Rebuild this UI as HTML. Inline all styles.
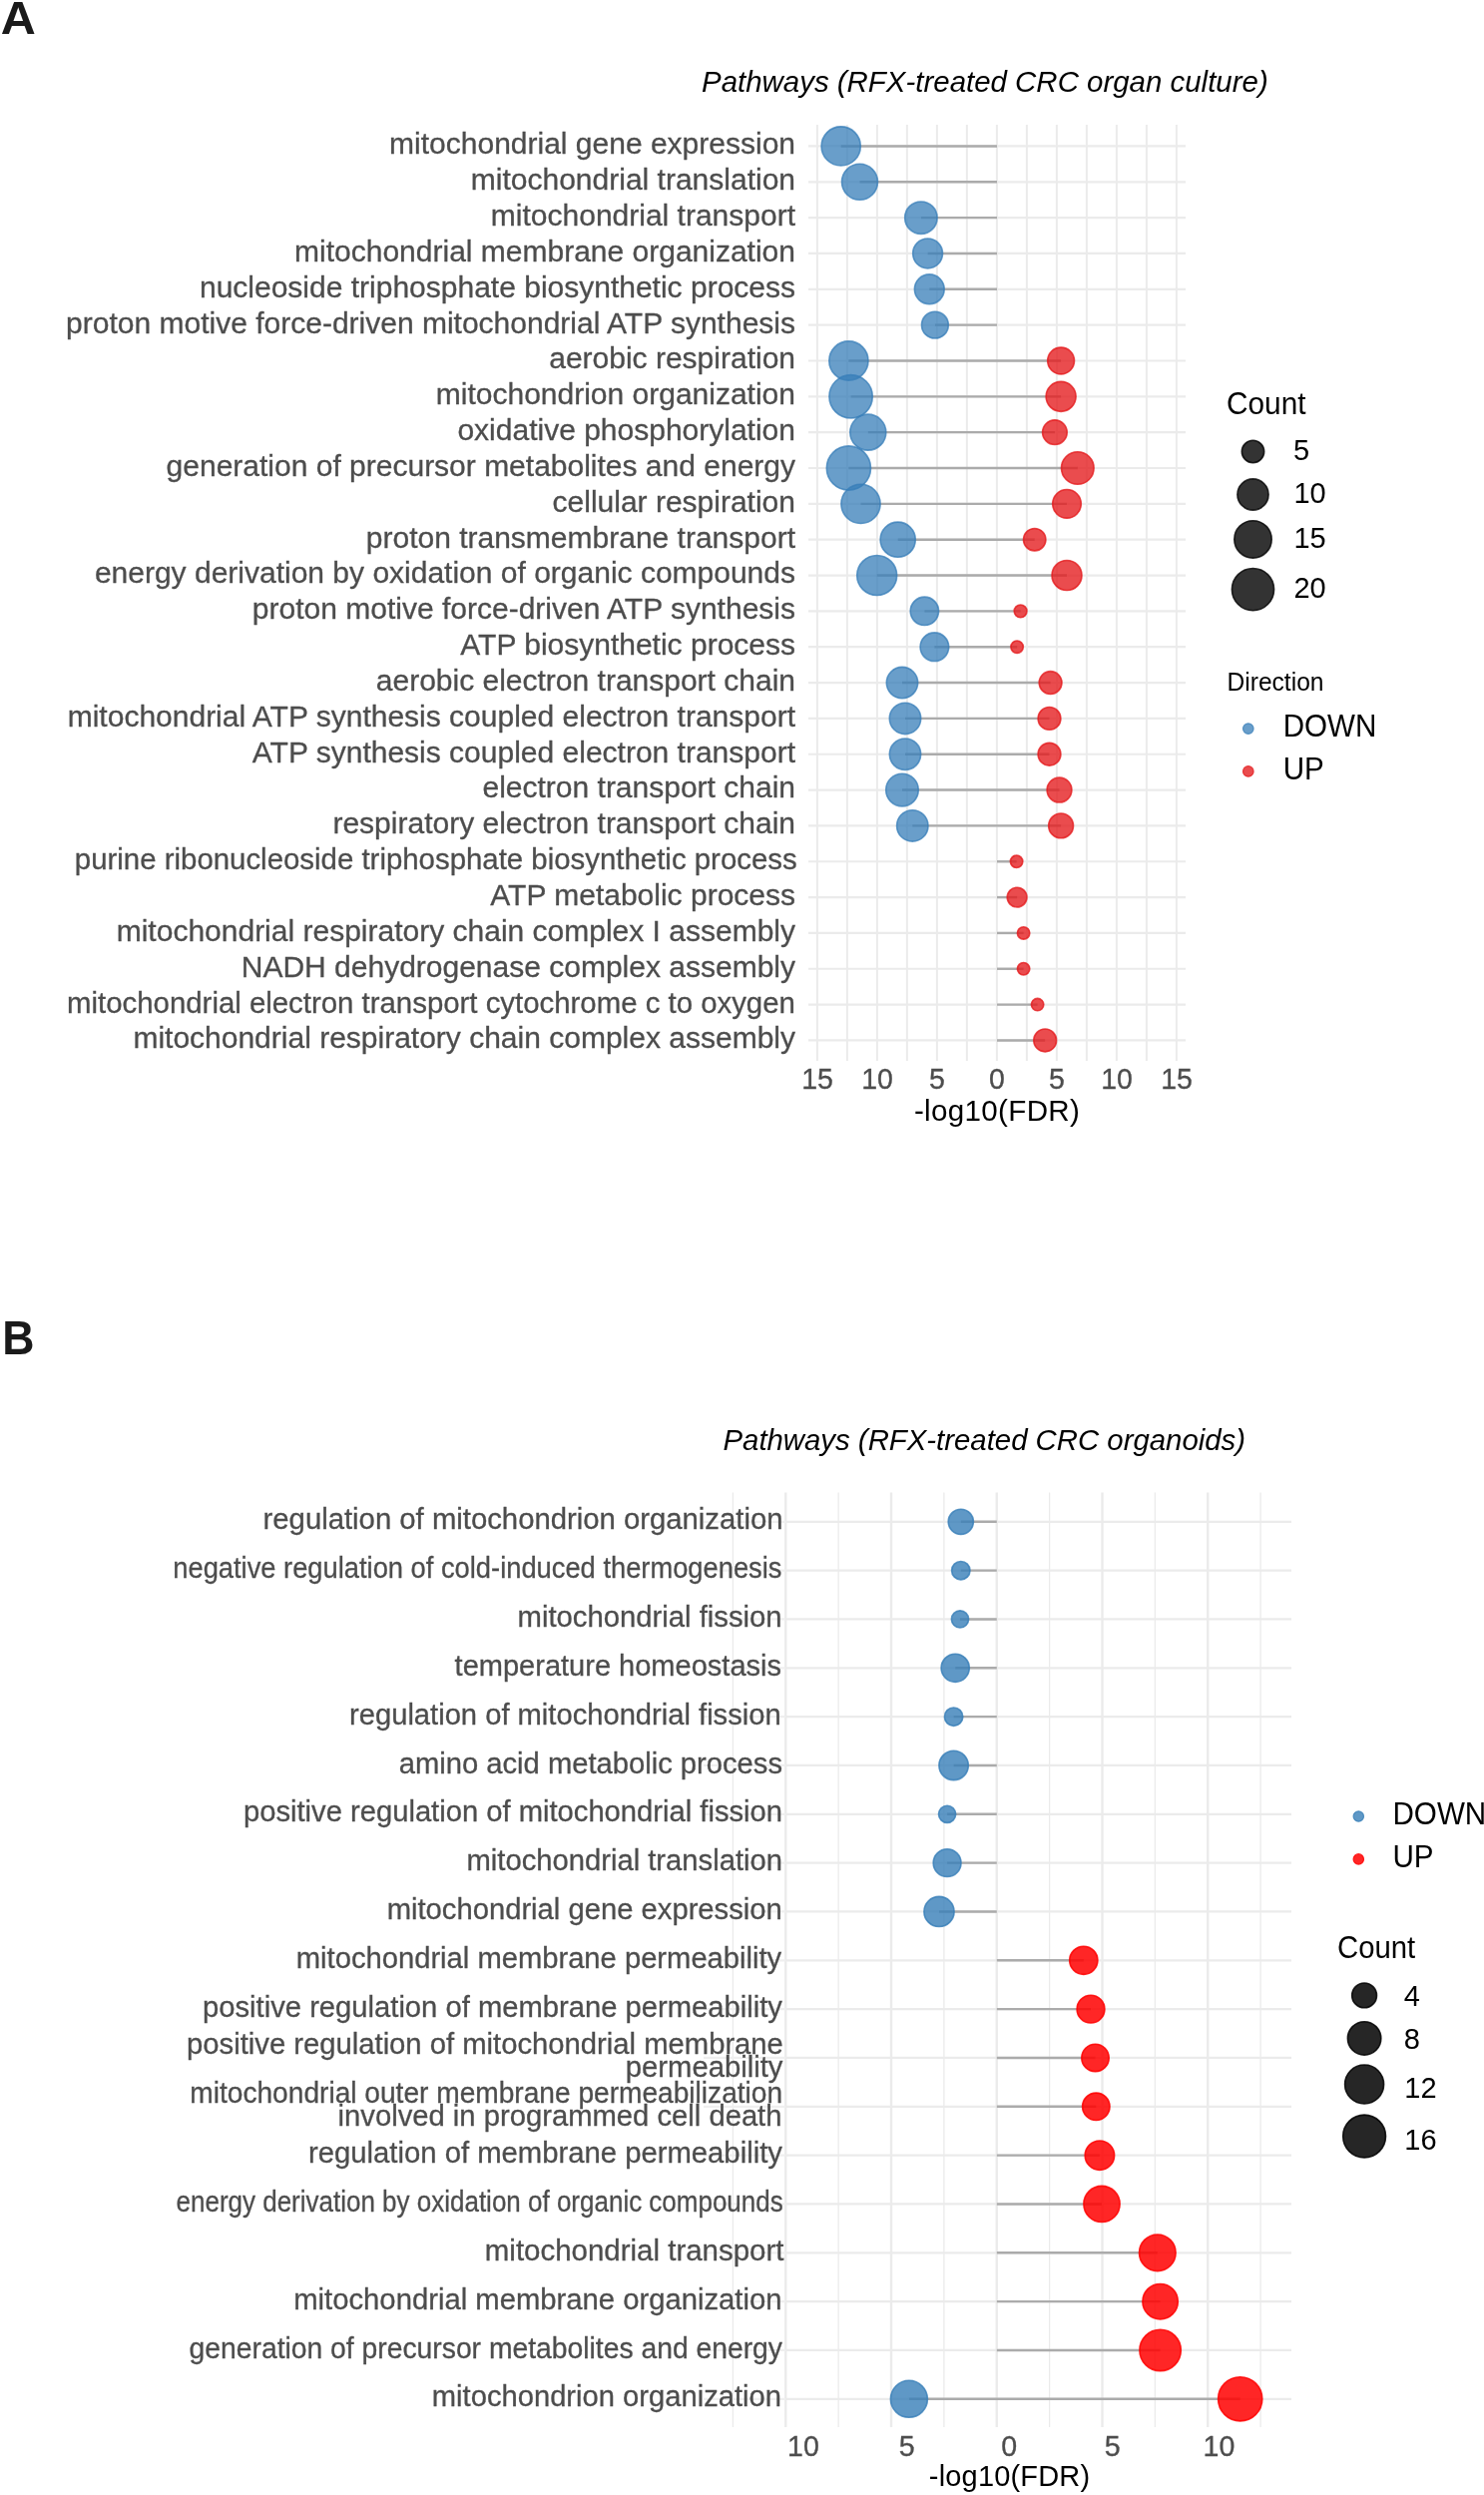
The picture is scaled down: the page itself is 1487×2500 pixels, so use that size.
<!DOCTYPE html>
<html><head><meta charset="utf-8"><title>Pathways</title>
<style>
html,body{margin:0;padding:0;background:#fff;}
body{width:1487px;height:2500px;overflow:hidden;}
svg{display:block;will-change:transform;}
svg text{font-family:"Liberation Sans", sans-serif;}
svg text[fill="#4D4D4D"]{stroke:#4D4D4D;stroke-width:0.3px;}
</style></head>
<body>
<svg width="1487" height="2500" viewBox="0 0 1487 2500">
<rect x="0" y="0" width="1487" height="2500" fill="#fff"/>
<line x1="818.90" y1="125.0" x2="818.90" y2="1063.0" stroke="#EBEBEB" stroke-width="2.0"/>
<line x1="848.90" y1="125.0" x2="848.90" y2="1063.0" stroke="#EBEBEB" stroke-width="2.0"/>
<line x1="878.90" y1="125.0" x2="878.90" y2="1063.0" stroke="#EBEBEB" stroke-width="2.0"/>
<line x1="908.90" y1="125.0" x2="908.90" y2="1063.0" stroke="#EBEBEB" stroke-width="2.0"/>
<line x1="938.90" y1="125.0" x2="938.90" y2="1063.0" stroke="#EBEBEB" stroke-width="2.0"/>
<line x1="968.90" y1="125.0" x2="968.90" y2="1063.0" stroke="#EBEBEB" stroke-width="2.0"/>
<line x1="998.90" y1="125.0" x2="998.90" y2="1063.0" stroke="#EBEBEB" stroke-width="2.0"/>
<line x1="1028.90" y1="125.0" x2="1028.90" y2="1063.0" stroke="#EBEBEB" stroke-width="2.0"/>
<line x1="1058.90" y1="125.0" x2="1058.90" y2="1063.0" stroke="#EBEBEB" stroke-width="2.0"/>
<line x1="1088.90" y1="125.0" x2="1088.90" y2="1063.0" stroke="#EBEBEB" stroke-width="2.0"/>
<line x1="1118.90" y1="125.0" x2="1118.90" y2="1063.0" stroke="#EBEBEB" stroke-width="2.0"/>
<line x1="1148.90" y1="125.0" x2="1148.90" y2="1063.0" stroke="#EBEBEB" stroke-width="2.0"/>
<line x1="1178.90" y1="125.0" x2="1178.90" y2="1063.0" stroke="#EBEBEB" stroke-width="2.0"/>
<line x1="810.0" y1="146.45" x2="1188.0" y2="146.45" stroke="#EBEBEB" stroke-width="2.2"/>
<line x1="810.0" y1="182.29" x2="1188.0" y2="182.29" stroke="#EBEBEB" stroke-width="2.2"/>
<line x1="810.0" y1="218.13" x2="1188.0" y2="218.13" stroke="#EBEBEB" stroke-width="2.2"/>
<line x1="810.0" y1="253.97" x2="1188.0" y2="253.97" stroke="#EBEBEB" stroke-width="2.2"/>
<line x1="810.0" y1="289.81" x2="1188.0" y2="289.81" stroke="#EBEBEB" stroke-width="2.2"/>
<line x1="810.0" y1="325.65" x2="1188.0" y2="325.65" stroke="#EBEBEB" stroke-width="2.2"/>
<line x1="810.0" y1="361.49" x2="1188.0" y2="361.49" stroke="#EBEBEB" stroke-width="2.2"/>
<line x1="810.0" y1="397.33" x2="1188.0" y2="397.33" stroke="#EBEBEB" stroke-width="2.2"/>
<line x1="810.0" y1="433.17" x2="1188.0" y2="433.17" stroke="#EBEBEB" stroke-width="2.2"/>
<line x1="810.0" y1="469.01" x2="1188.0" y2="469.01" stroke="#EBEBEB" stroke-width="2.2"/>
<line x1="810.0" y1="504.85" x2="1188.0" y2="504.85" stroke="#EBEBEB" stroke-width="2.2"/>
<line x1="810.0" y1="540.69" x2="1188.0" y2="540.69" stroke="#EBEBEB" stroke-width="2.2"/>
<line x1="810.0" y1="576.53" x2="1188.0" y2="576.53" stroke="#EBEBEB" stroke-width="2.2"/>
<line x1="810.0" y1="612.37" x2="1188.0" y2="612.37" stroke="#EBEBEB" stroke-width="2.2"/>
<line x1="810.0" y1="648.21" x2="1188.0" y2="648.21" stroke="#EBEBEB" stroke-width="2.2"/>
<line x1="810.0" y1="684.05" x2="1188.0" y2="684.05" stroke="#EBEBEB" stroke-width="2.2"/>
<line x1="810.0" y1="719.89" x2="1188.0" y2="719.89" stroke="#EBEBEB" stroke-width="2.2"/>
<line x1="810.0" y1="755.73" x2="1188.0" y2="755.73" stroke="#EBEBEB" stroke-width="2.2"/>
<line x1="810.0" y1="791.57" x2="1188.0" y2="791.57" stroke="#EBEBEB" stroke-width="2.2"/>
<line x1="810.0" y1="827.41" x2="1188.0" y2="827.41" stroke="#EBEBEB" stroke-width="2.2"/>
<line x1="810.0" y1="863.25" x2="1188.0" y2="863.25" stroke="#EBEBEB" stroke-width="2.2"/>
<line x1="810.0" y1="899.09" x2="1188.0" y2="899.09" stroke="#EBEBEB" stroke-width="2.2"/>
<line x1="810.0" y1="934.93" x2="1188.0" y2="934.93" stroke="#EBEBEB" stroke-width="2.2"/>
<line x1="810.0" y1="970.77" x2="1188.0" y2="970.77" stroke="#EBEBEB" stroke-width="2.2"/>
<line x1="810.0" y1="1006.61" x2="1188.0" y2="1006.61" stroke="#EBEBEB" stroke-width="2.2"/>
<line x1="810.0" y1="1042.45" x2="1188.0" y2="1042.45" stroke="#EBEBEB" stroke-width="2.2"/>
<line x1="842.70" y1="146.45" x2="999.00" y2="146.45" stroke="#ABABAB" stroke-width="2.4"/>
<line x1="861.50" y1="182.29" x2="999.00" y2="182.29" stroke="#ABABAB" stroke-width="2.4"/>
<line x1="922.90" y1="218.13" x2="999.00" y2="218.13" stroke="#ABABAB" stroke-width="2.4"/>
<line x1="929.60" y1="253.97" x2="999.00" y2="253.97" stroke="#ABABAB" stroke-width="2.4"/>
<line x1="931.30" y1="289.81" x2="999.00" y2="289.81" stroke="#ABABAB" stroke-width="2.4"/>
<line x1="936.90" y1="325.65" x2="999.00" y2="325.65" stroke="#ABABAB" stroke-width="2.4"/>
<line x1="850.40" y1="361.49" x2="1063.10" y2="361.49" stroke="#ABABAB" stroke-width="2.4"/>
<line x1="852.60" y1="397.33" x2="1063.10" y2="397.33" stroke="#ABABAB" stroke-width="2.4"/>
<line x1="869.80" y1="433.17" x2="1056.90" y2="433.17" stroke="#ABABAB" stroke-width="2.4"/>
<line x1="850.40" y1="469.01" x2="1079.80" y2="469.01" stroke="#ABABAB" stroke-width="2.4"/>
<line x1="862.50" y1="504.85" x2="1069.00" y2="504.85" stroke="#ABABAB" stroke-width="2.4"/>
<line x1="899.70" y1="540.69" x2="1036.70" y2="540.69" stroke="#ABABAB" stroke-width="2.4"/>
<line x1="878.70" y1="576.53" x2="1069.00" y2="576.53" stroke="#ABABAB" stroke-width="2.4"/>
<line x1="926.40" y1="612.37" x2="1022.60" y2="612.37" stroke="#ABABAB" stroke-width="2.4"/>
<line x1="936.40" y1="648.21" x2="1019.10" y2="648.21" stroke="#ABABAB" stroke-width="2.4"/>
<line x1="904.00" y1="684.05" x2="1052.60" y2="684.05" stroke="#ABABAB" stroke-width="2.4"/>
<line x1="907.00" y1="719.89" x2="1051.50" y2="719.89" stroke="#ABABAB" stroke-width="2.4"/>
<line x1="907.00" y1="755.73" x2="1051.50" y2="755.73" stroke="#ABABAB" stroke-width="2.4"/>
<line x1="904.00" y1="791.57" x2="1061.50" y2="791.57" stroke="#ABABAB" stroke-width="2.4"/>
<line x1="914.30" y1="827.41" x2="1063.10" y2="827.41" stroke="#ABABAB" stroke-width="2.4"/>
<line x1="999.00" y1="863.25" x2="1018.60" y2="863.25" stroke="#ABABAB" stroke-width="2.4"/>
<line x1="999.00" y1="899.09" x2="1019.10" y2="899.09" stroke="#ABABAB" stroke-width="2.4"/>
<line x1="999.00" y1="934.93" x2="1025.60" y2="934.93" stroke="#ABABAB" stroke-width="2.4"/>
<line x1="999.00" y1="970.77" x2="1025.60" y2="970.77" stroke="#ABABAB" stroke-width="2.4"/>
<line x1="999.00" y1="1006.61" x2="1039.60" y2="1006.61" stroke="#ABABAB" stroke-width="2.4"/>
<line x1="999.00" y1="1042.45" x2="1047.20" y2="1042.45" stroke="#ABABAB" stroke-width="2.4"/>
<circle cx="842.70" cy="146.45" r="19.60" fill="#377EB8" fill-opacity="0.75" stroke="#377EB8" stroke-opacity="0.75" stroke-width="1.6"/>
<circle cx="861.50" cy="182.29" r="18.00" fill="#377EB8" fill-opacity="0.75" stroke="#377EB8" stroke-opacity="0.75" stroke-width="1.6"/>
<circle cx="922.90" cy="218.13" r="16.20" fill="#377EB8" fill-opacity="0.75" stroke="#377EB8" stroke-opacity="0.75" stroke-width="1.6"/>
<circle cx="929.60" cy="253.97" r="14.90" fill="#377EB8" fill-opacity="0.75" stroke="#377EB8" stroke-opacity="0.75" stroke-width="1.6"/>
<circle cx="931.30" cy="289.81" r="14.90" fill="#377EB8" fill-opacity="0.75" stroke="#377EB8" stroke-opacity="0.75" stroke-width="1.6"/>
<circle cx="936.90" cy="325.65" r="13.40" fill="#377EB8" fill-opacity="0.75" stroke="#377EB8" stroke-opacity="0.75" stroke-width="1.6"/>
<circle cx="850.40" cy="361.49" r="19.60" fill="#377EB8" fill-opacity="0.75" stroke="#377EB8" stroke-opacity="0.75" stroke-width="1.6"/>
<circle cx="1063.10" cy="361.49" r="13.40" fill="#E41A1C" fill-opacity="0.78" stroke="#E41A1C" stroke-opacity="0.78" stroke-width="1.6"/>
<circle cx="852.60" cy="397.33" r="21.70" fill="#377EB8" fill-opacity="0.75" stroke="#377EB8" stroke-opacity="0.75" stroke-width="1.6"/>
<circle cx="1063.10" cy="397.33" r="15.00" fill="#E41A1C" fill-opacity="0.78" stroke="#E41A1C" stroke-opacity="0.78" stroke-width="1.6"/>
<circle cx="869.80" cy="433.17" r="18.00" fill="#377EB8" fill-opacity="0.75" stroke="#377EB8" stroke-opacity="0.75" stroke-width="1.6"/>
<circle cx="1056.90" cy="433.17" r="12.30" fill="#E41A1C" fill-opacity="0.78" stroke="#E41A1C" stroke-opacity="0.78" stroke-width="1.6"/>
<circle cx="850.40" cy="469.01" r="22.10" fill="#377EB8" fill-opacity="0.75" stroke="#377EB8" stroke-opacity="0.75" stroke-width="1.6"/>
<circle cx="1079.80" cy="469.01" r="16.30" fill="#E41A1C" fill-opacity="0.78" stroke="#E41A1C" stroke-opacity="0.78" stroke-width="1.6"/>
<circle cx="862.50" cy="504.85" r="19.60" fill="#377EB8" fill-opacity="0.75" stroke="#377EB8" stroke-opacity="0.75" stroke-width="1.6"/>
<circle cx="1069.00" cy="504.85" r="14.30" fill="#E41A1C" fill-opacity="0.78" stroke="#E41A1C" stroke-opacity="0.78" stroke-width="1.6"/>
<circle cx="899.70" cy="540.69" r="17.60" fill="#377EB8" fill-opacity="0.75" stroke="#377EB8" stroke-opacity="0.75" stroke-width="1.6"/>
<circle cx="1036.70" cy="540.69" r="11.20" fill="#E41A1C" fill-opacity="0.78" stroke="#E41A1C" stroke-opacity="0.78" stroke-width="1.6"/>
<circle cx="878.70" cy="576.53" r="20.00" fill="#377EB8" fill-opacity="0.75" stroke="#377EB8" stroke-opacity="0.75" stroke-width="1.6"/>
<circle cx="1069.00" cy="576.53" r="15.00" fill="#E41A1C" fill-opacity="0.78" stroke="#E41A1C" stroke-opacity="0.78" stroke-width="1.6"/>
<circle cx="926.40" cy="612.37" r="14.20" fill="#377EB8" fill-opacity="0.75" stroke="#377EB8" stroke-opacity="0.75" stroke-width="1.6"/>
<circle cx="1022.60" cy="612.37" r="6.40" fill="#E41A1C" fill-opacity="0.78" stroke="#E41A1C" stroke-opacity="0.78" stroke-width="1.6"/>
<circle cx="936.40" cy="648.21" r="14.30" fill="#377EB8" fill-opacity="0.75" stroke="#377EB8" stroke-opacity="0.75" stroke-width="1.6"/>
<circle cx="1019.10" cy="648.21" r="6.20" fill="#E41A1C" fill-opacity="0.78" stroke="#E41A1C" stroke-opacity="0.78" stroke-width="1.6"/>
<circle cx="904.00" cy="684.05" r="15.70" fill="#377EB8" fill-opacity="0.75" stroke="#377EB8" stroke-opacity="0.75" stroke-width="1.6"/>
<circle cx="1052.60" cy="684.05" r="11.40" fill="#E41A1C" fill-opacity="0.78" stroke="#E41A1C" stroke-opacity="0.78" stroke-width="1.6"/>
<circle cx="907.00" cy="719.89" r="15.70" fill="#377EB8" fill-opacity="0.75" stroke="#377EB8" stroke-opacity="0.75" stroke-width="1.6"/>
<circle cx="1051.50" cy="719.89" r="11.40" fill="#E41A1C" fill-opacity="0.78" stroke="#E41A1C" stroke-opacity="0.78" stroke-width="1.6"/>
<circle cx="907.00" cy="755.73" r="15.70" fill="#377EB8" fill-opacity="0.75" stroke="#377EB8" stroke-opacity="0.75" stroke-width="1.6"/>
<circle cx="1051.50" cy="755.73" r="11.40" fill="#E41A1C" fill-opacity="0.78" stroke="#E41A1C" stroke-opacity="0.78" stroke-width="1.6"/>
<circle cx="904.00" cy="791.57" r="16.30" fill="#377EB8" fill-opacity="0.75" stroke="#377EB8" stroke-opacity="0.75" stroke-width="1.6"/>
<circle cx="1061.50" cy="791.57" r="12.40" fill="#E41A1C" fill-opacity="0.78" stroke="#E41A1C" stroke-opacity="0.78" stroke-width="1.6"/>
<circle cx="914.30" cy="827.41" r="15.70" fill="#377EB8" fill-opacity="0.75" stroke="#377EB8" stroke-opacity="0.75" stroke-width="1.6"/>
<circle cx="1063.10" cy="827.41" r="12.40" fill="#E41A1C" fill-opacity="0.78" stroke="#E41A1C" stroke-opacity="0.78" stroke-width="1.6"/>
<circle cx="1018.60" cy="863.25" r="6.20" fill="#E41A1C" fill-opacity="0.78" stroke="#E41A1C" stroke-opacity="0.78" stroke-width="1.6"/>
<circle cx="1019.10" cy="899.09" r="9.90" fill="#E41A1C" fill-opacity="0.78" stroke="#E41A1C" stroke-opacity="0.78" stroke-width="1.6"/>
<circle cx="1025.60" cy="934.93" r="6.20" fill="#E41A1C" fill-opacity="0.78" stroke="#E41A1C" stroke-opacity="0.78" stroke-width="1.6"/>
<circle cx="1025.60" cy="970.77" r="6.20" fill="#E41A1C" fill-opacity="0.78" stroke="#E41A1C" stroke-opacity="0.78" stroke-width="1.6"/>
<circle cx="1039.60" cy="1006.61" r="6.20" fill="#E41A1C" fill-opacity="0.78" stroke="#E41A1C" stroke-opacity="0.78" stroke-width="1.6"/>
<circle cx="1047.20" cy="1042.45" r="11.40" fill="#E41A1C" fill-opacity="0.78" stroke="#E41A1C" stroke-opacity="0.78" stroke-width="1.6"/>
<text x="797.0" y="154.35" text-anchor="end" font-size="30" fill="#4D4D4D">mitochondrial gene expression</text>
<text x="797.0" y="190.19" text-anchor="end" font-size="30" fill="#4D4D4D">mitochondrial translation</text>
<text x="797.0" y="226.03" text-anchor="end" font-size="30" fill="#4D4D4D">mitochondrial transport</text>
<text x="797.0" y="261.87" text-anchor="end" font-size="30" fill="#4D4D4D">mitochondrial membrane organization</text>
<text x="797.0" y="297.71" text-anchor="end" font-size="30" fill="#4D4D4D">nucleoside triphosphate biosynthetic process</text>
<text x="797.0" y="333.55" text-anchor="end" font-size="30" fill="#4D4D4D">proton motive force-driven mitochondrial ATP synthesis</text>
<text x="797.0" y="369.39" text-anchor="end" font-size="30" fill="#4D4D4D">aerobic respiration</text>
<text x="797.0" y="405.23" text-anchor="end" font-size="30" fill="#4D4D4D">mitochondrion organization</text>
<text x="797.0" y="441.07" text-anchor="end" font-size="30" fill="#4D4D4D">oxidative phosphorylation</text>
<text x="797.0" y="476.91" text-anchor="end" font-size="30" fill="#4D4D4D">generation of precursor metabolites and energy</text>
<text x="797.0" y="512.75" text-anchor="end" font-size="30" fill="#4D4D4D">cellular respiration</text>
<text x="797.0" y="548.59" text-anchor="end" font-size="30" fill="#4D4D4D">proton transmembrane transport</text>
<text x="797.0" y="584.43" text-anchor="end" font-size="30" fill="#4D4D4D">energy derivation by oxidation of organic compounds</text>
<text x="797.0" y="620.27" text-anchor="end" font-size="30" fill="#4D4D4D">proton motive force-driven ATP synthesis</text>
<text x="797.0" y="656.11" text-anchor="end" font-size="30" fill="#4D4D4D">ATP biosynthetic process</text>
<text x="797.0" y="691.95" text-anchor="end" font-size="30" fill="#4D4D4D">aerobic electron transport chain</text>
<text x="797.0" y="727.79" text-anchor="end" font-size="30" fill="#4D4D4D">mitochondrial ATP synthesis coupled electron transport</text>
<text x="797.0" y="763.63" text-anchor="end" font-size="30" fill="#4D4D4D">ATP synthesis coupled electron transport</text>
<text x="797.0" y="799.47" text-anchor="end" font-size="30" fill="#4D4D4D">electron transport chain</text>
<text x="797.0" y="835.31" text-anchor="end" font-size="30" fill="#4D4D4D">respiratory electron transport chain</text>
<text x="74.85" y="871.15" font-size="30" fill="#4D4D4D" textLength="723.82" lengthAdjust="spacingAndGlyphs">purine ribonucleoside triphosphate biosynthetic process</text>
<text x="797.0" y="906.99" text-anchor="end" font-size="30" fill="#4D4D4D">ATP metabolic process</text>
<text x="797.0" y="942.83" text-anchor="end" font-size="30" fill="#4D4D4D">mitochondrial respiratory chain complex I assembly</text>
<text x="797.0" y="978.67" text-anchor="end" font-size="30" fill="#4D4D4D">NADH dehydrogenase complex assembly</text>
<text x="67.09" y="1014.51" font-size="30" fill="#4D4D4D" textLength="729.77" lengthAdjust="spacingAndGlyphs">mitochondrial electron transport cytochrome c to oxygen</text>
<text x="797.0" y="1050.35" text-anchor="end" font-size="30" fill="#4D4D4D">mitochondrial respiratory chain complex assembly</text>
<text transform="translate(819.00,1091.20) scale(1,1.04)" x="0" y="0" font-size="28.5" fill="#4D4D4D" text-anchor="middle">15</text>
<text transform="translate(879.00,1091.20) scale(1,1.04)" x="0" y="0" font-size="28.5" fill="#4D4D4D" text-anchor="middle">10</text>
<text transform="translate(939.00,1091.20) scale(1,1.04)" x="0" y="0" font-size="28.5" fill="#4D4D4D" text-anchor="middle">5</text>
<text transform="translate(999.00,1091.20) scale(1,1.04)" x="0" y="0" font-size="28.5" fill="#4D4D4D" text-anchor="middle">0</text>
<text transform="translate(1059.00,1091.20) scale(1,1.04)" x="0" y="0" font-size="28.5" fill="#4D4D4D" text-anchor="middle">5</text>
<text transform="translate(1119.00,1091.20) scale(1,1.04)" x="0" y="0" font-size="28.5" fill="#4D4D4D" text-anchor="middle">10</text>
<text transform="translate(1179.00,1091.20) scale(1,1.04)" x="0" y="0" font-size="28.5" fill="#4D4D4D" text-anchor="middle">15</text>
<text x="915.9" y="1123" font-size="29.6" fill="#000" textLength="166.0" lengthAdjust="spacing">-log10(FDR)</text>
<text x="703" y="92.4" font-size="29.45" font-style="italic" fill="#000">Pathways (RFX-treated CRC organ culture)</text>
<text transform="translate(1229.00,415.30) scale(1,1.05)" x="0" y="0" font-size="29.8" fill="#000">Count</text>
<circle cx="1255.50" cy="452.50" r="11.20" fill="#000" fill-opacity="0.8" stroke="#000" stroke-opacity="0.8" stroke-width="1.6"/>
<text transform="translate(1296.00,460.70) scale(1,1.03)" x="0" y="0" font-size="29" fill="#000">5</text>
<circle cx="1255.50" cy="495.50" r="15.60" fill="#000" fill-opacity="0.8" stroke="#000" stroke-opacity="0.8" stroke-width="1.6"/>
<text transform="translate(1296.50,503.70) scale(1,1.03)" x="0" y="0" font-size="29" fill="#000">10</text>
<circle cx="1255.50" cy="540.40" r="18.70" fill="#000" fill-opacity="0.8" stroke="#000" stroke-opacity="0.8" stroke-width="1.6"/>
<text transform="translate(1296.50,548.60) scale(1,1.03)" x="0" y="0" font-size="29" fill="#000">15</text>
<circle cx="1255.50" cy="590.60" r="21.10" fill="#000" fill-opacity="0.8" stroke="#000" stroke-opacity="0.8" stroke-width="1.6"/>
<text transform="translate(1296.50,598.80) scale(1,1.03)" x="0" y="0" font-size="29" fill="#000">20</text>
<text transform="translate(1229.50,692.30) scale(1,1.04)" x="0" y="0" font-size="24.6" fill="#000">Direction</text>
<circle cx="1250.80" cy="730.10" r="5.30" fill="#377EB8" fill-opacity="0.75" stroke="#377EB8" stroke-opacity="0.75" stroke-width="1.2"/>
<circle cx="1250.80" cy="772.90" r="5.30" fill="#E41A1C" fill-opacity="0.78" stroke="#E41A1C" stroke-opacity="0.78" stroke-width="1.2"/>
<text transform="translate(1285.70,737.90) scale(1,1.07)" x="0" y="0" font-size="29.6" fill="#000">DOWN</text>
<text transform="translate(1285.70,780.60) scale(1,1.07)" x="0" y="0" font-size="29.6" fill="#000">UP</text>
<line x1="734.40" y1="1495.4" x2="734.40" y2="2432.0" stroke="#EBEBEB" stroke-width="1.3"/>
<line x1="787.27" y1="1495.4" x2="787.27" y2="2432.0" stroke="#EBEBEB" stroke-width="2.4"/>
<line x1="840.14" y1="1495.4" x2="840.14" y2="2432.0" stroke="#EBEBEB" stroke-width="1.3"/>
<line x1="893.01" y1="1495.4" x2="893.01" y2="2432.0" stroke="#EBEBEB" stroke-width="2.4"/>
<line x1="945.88" y1="1495.4" x2="945.88" y2="2432.0" stroke="#EBEBEB" stroke-width="1.3"/>
<line x1="998.75" y1="1495.4" x2="998.75" y2="2432.0" stroke="#EBEBEB" stroke-width="2.4"/>
<line x1="1051.62" y1="1495.4" x2="1051.62" y2="2432.0" stroke="#EBEBEB" stroke-width="1.3"/>
<line x1="1104.49" y1="1495.4" x2="1104.49" y2="2432.0" stroke="#EBEBEB" stroke-width="2.4"/>
<line x1="1157.36" y1="1495.4" x2="1157.36" y2="2432.0" stroke="#EBEBEB" stroke-width="1.3"/>
<line x1="1210.23" y1="1495.4" x2="1210.23" y2="2432.0" stroke="#EBEBEB" stroke-width="2.4"/>
<line x1="1263.10" y1="1495.4" x2="1263.10" y2="2432.0" stroke="#EBEBEB" stroke-width="1.3"/>
<line x1="705" y1="1524.80" x2="787.3" y2="1524.80" stroke="#EFEFEF" stroke-width="2.2"/>
<line x1="787.3" y1="1524.80" x2="1294.0" y2="1524.80" stroke="#EBEBEB" stroke-width="2.2"/>
<line x1="705" y1="1573.63" x2="787.3" y2="1573.63" stroke="#EFEFEF" stroke-width="2.2"/>
<line x1="787.3" y1="1573.63" x2="1294.0" y2="1573.63" stroke="#EBEBEB" stroke-width="2.2"/>
<line x1="705" y1="1622.47" x2="787.3" y2="1622.47" stroke="#EFEFEF" stroke-width="2.2"/>
<line x1="787.3" y1="1622.47" x2="1294.0" y2="1622.47" stroke="#EBEBEB" stroke-width="2.2"/>
<line x1="705" y1="1671.30" x2="787.3" y2="1671.30" stroke="#EFEFEF" stroke-width="2.2"/>
<line x1="787.3" y1="1671.30" x2="1294.0" y2="1671.30" stroke="#EBEBEB" stroke-width="2.2"/>
<line x1="705" y1="1720.13" x2="787.3" y2="1720.13" stroke="#EFEFEF" stroke-width="2.2"/>
<line x1="787.3" y1="1720.13" x2="1294.0" y2="1720.13" stroke="#EBEBEB" stroke-width="2.2"/>
<line x1="705" y1="1768.96" x2="787.3" y2="1768.96" stroke="#EFEFEF" stroke-width="2.2"/>
<line x1="787.3" y1="1768.96" x2="1294.0" y2="1768.96" stroke="#EBEBEB" stroke-width="2.2"/>
<line x1="705" y1="1817.80" x2="787.3" y2="1817.80" stroke="#EFEFEF" stroke-width="2.2"/>
<line x1="787.3" y1="1817.80" x2="1294.0" y2="1817.80" stroke="#EBEBEB" stroke-width="2.2"/>
<line x1="705" y1="1866.63" x2="787.3" y2="1866.63" stroke="#EFEFEF" stroke-width="2.2"/>
<line x1="787.3" y1="1866.63" x2="1294.0" y2="1866.63" stroke="#EBEBEB" stroke-width="2.2"/>
<line x1="705" y1="1915.46" x2="787.3" y2="1915.46" stroke="#EFEFEF" stroke-width="2.2"/>
<line x1="787.3" y1="1915.46" x2="1294.0" y2="1915.46" stroke="#EBEBEB" stroke-width="2.2"/>
<line x1="705" y1="1964.30" x2="787.3" y2="1964.30" stroke="#EFEFEF" stroke-width="2.2"/>
<line x1="787.3" y1="1964.30" x2="1294.0" y2="1964.30" stroke="#EBEBEB" stroke-width="2.2"/>
<line x1="705" y1="2013.13" x2="787.3" y2="2013.13" stroke="#EFEFEF" stroke-width="2.2"/>
<line x1="787.3" y1="2013.13" x2="1294.0" y2="2013.13" stroke="#EBEBEB" stroke-width="2.2"/>
<line x1="705" y1="2061.96" x2="787.3" y2="2061.96" stroke="#EFEFEF" stroke-width="2.2"/>
<line x1="787.3" y1="2061.96" x2="1294.0" y2="2061.96" stroke="#EBEBEB" stroke-width="2.2"/>
<line x1="705" y1="2110.80" x2="787.3" y2="2110.80" stroke="#EFEFEF" stroke-width="2.2"/>
<line x1="787.3" y1="2110.80" x2="1294.0" y2="2110.80" stroke="#EBEBEB" stroke-width="2.2"/>
<line x1="705" y1="2159.63" x2="787.3" y2="2159.63" stroke="#EFEFEF" stroke-width="2.2"/>
<line x1="787.3" y1="2159.63" x2="1294.0" y2="2159.63" stroke="#EBEBEB" stroke-width="2.2"/>
<line x1="705" y1="2208.46" x2="787.3" y2="2208.46" stroke="#EFEFEF" stroke-width="2.2"/>
<line x1="787.3" y1="2208.46" x2="1294.0" y2="2208.46" stroke="#EBEBEB" stroke-width="2.2"/>
<line x1="705" y1="2257.30" x2="787.3" y2="2257.30" stroke="#EFEFEF" stroke-width="2.2"/>
<line x1="787.3" y1="2257.30" x2="1294.0" y2="2257.30" stroke="#EBEBEB" stroke-width="2.2"/>
<line x1="705" y1="2306.13" x2="787.3" y2="2306.13" stroke="#EFEFEF" stroke-width="2.2"/>
<line x1="787.3" y1="2306.13" x2="1294.0" y2="2306.13" stroke="#EBEBEB" stroke-width="2.2"/>
<line x1="705" y1="2354.96" x2="787.3" y2="2354.96" stroke="#EFEFEF" stroke-width="2.2"/>
<line x1="787.3" y1="2354.96" x2="1294.0" y2="2354.96" stroke="#EBEBEB" stroke-width="2.2"/>
<line x1="705" y1="2403.79" x2="787.3" y2="2403.79" stroke="#EFEFEF" stroke-width="2.2"/>
<line x1="787.3" y1="2403.79" x2="1294.0" y2="2403.79" stroke="#EBEBEB" stroke-width="2.2"/>
<line x1="962.80" y1="1524.80" x2="998.80" y2="1524.80" stroke="#ABABAB" stroke-width="2.4"/>
<line x1="962.80" y1="1573.63" x2="998.80" y2="1573.63" stroke="#ABABAB" stroke-width="2.4"/>
<line x1="962.00" y1="1622.47" x2="998.80" y2="1622.47" stroke="#ABABAB" stroke-width="2.4"/>
<line x1="957.20" y1="1671.30" x2="998.80" y2="1671.30" stroke="#ABABAB" stroke-width="2.4"/>
<line x1="955.60" y1="1720.13" x2="998.80" y2="1720.13" stroke="#ABABAB" stroke-width="2.4"/>
<line x1="955.60" y1="1768.96" x2="998.80" y2="1768.96" stroke="#ABABAB" stroke-width="2.4"/>
<line x1="949.10" y1="1817.80" x2="998.80" y2="1817.80" stroke="#ABABAB" stroke-width="2.4"/>
<line x1="949.10" y1="1866.63" x2="998.80" y2="1866.63" stroke="#ABABAB" stroke-width="2.4"/>
<line x1="941.00" y1="1915.46" x2="998.80" y2="1915.46" stroke="#ABABAB" stroke-width="2.4"/>
<line x1="998.80" y1="1964.30" x2="1085.80" y2="1964.30" stroke="#ABABAB" stroke-width="2.4"/>
<line x1="998.80" y1="2013.13" x2="1093.00" y2="2013.13" stroke="#ABABAB" stroke-width="2.4"/>
<line x1="998.80" y1="2061.96" x2="1097.50" y2="2061.96" stroke="#ABABAB" stroke-width="2.4"/>
<line x1="998.80" y1="2110.80" x2="1098.30" y2="2110.80" stroke="#ABABAB" stroke-width="2.4"/>
<line x1="998.80" y1="2159.63" x2="1101.90" y2="2159.63" stroke="#ABABAB" stroke-width="2.4"/>
<line x1="998.80" y1="2208.46" x2="1104.00" y2="2208.46" stroke="#ABABAB" stroke-width="2.4"/>
<line x1="998.80" y1="2257.30" x2="1159.80" y2="2257.30" stroke="#ABABAB" stroke-width="2.4"/>
<line x1="998.80" y1="2306.13" x2="1162.60" y2="2306.13" stroke="#ABABAB" stroke-width="2.4"/>
<line x1="998.80" y1="2354.96" x2="1162.60" y2="2354.96" stroke="#ABABAB" stroke-width="2.4"/>
<line x1="910.90" y1="2403.79" x2="1242.70" y2="2403.79" stroke="#ABABAB" stroke-width="2.4"/>
<circle cx="962.80" cy="1524.80" r="12.60" fill="#377EB8" fill-opacity="0.8" stroke="#377EB8" stroke-opacity="0.8" stroke-width="1.6"/>
<circle cx="962.80" cy="1573.63" r="9.20" fill="#377EB8" fill-opacity="0.8" stroke="#377EB8" stroke-opacity="0.8" stroke-width="1.6"/>
<circle cx="962.00" cy="1622.47" r="8.60" fill="#377EB8" fill-opacity="0.8" stroke="#377EB8" stroke-opacity="0.8" stroke-width="1.6"/>
<circle cx="957.20" cy="1671.30" r="14.10" fill="#377EB8" fill-opacity="0.8" stroke="#377EB8" stroke-opacity="0.8" stroke-width="1.6"/>
<circle cx="955.60" cy="1720.13" r="9.20" fill="#377EB8" fill-opacity="0.8" stroke="#377EB8" stroke-opacity="0.8" stroke-width="1.6"/>
<circle cx="955.60" cy="1768.96" r="14.70" fill="#377EB8" fill-opacity="0.8" stroke="#377EB8" stroke-opacity="0.8" stroke-width="1.6"/>
<circle cx="949.10" cy="1817.80" r="8.60" fill="#377EB8" fill-opacity="0.8" stroke="#377EB8" stroke-opacity="0.8" stroke-width="1.6"/>
<circle cx="949.10" cy="1866.63" r="13.90" fill="#377EB8" fill-opacity="0.8" stroke="#377EB8" stroke-opacity="0.8" stroke-width="1.6"/>
<circle cx="941.00" cy="1915.46" r="15.10" fill="#377EB8" fill-opacity="0.8" stroke="#377EB8" stroke-opacity="0.8" stroke-width="1.6"/>
<circle cx="1085.80" cy="1964.30" r="14.10" fill="#FF0000" fill-opacity="0.85" stroke="#FF0000" stroke-opacity="0.85" stroke-width="1.6"/>
<circle cx="1093.00" cy="2013.13" r="13.90" fill="#FF0000" fill-opacity="0.85" stroke="#FF0000" stroke-opacity="0.85" stroke-width="1.6"/>
<circle cx="1097.50" cy="2061.96" r="13.70" fill="#FF0000" fill-opacity="0.85" stroke="#FF0000" stroke-opacity="0.85" stroke-width="1.6"/>
<circle cx="1098.30" cy="2110.80" r="13.70" fill="#FF0000" fill-opacity="0.85" stroke="#FF0000" stroke-opacity="0.85" stroke-width="1.6"/>
<circle cx="1101.90" cy="2159.63" r="14.70" fill="#FF0000" fill-opacity="0.85" stroke="#FF0000" stroke-opacity="0.85" stroke-width="1.6"/>
<circle cx="1104.00" cy="2208.46" r="18.10" fill="#FF0000" fill-opacity="0.85" stroke="#FF0000" stroke-opacity="0.85" stroke-width="1.6"/>
<circle cx="1159.80" cy="2257.30" r="18.30" fill="#FF0000" fill-opacity="0.85" stroke="#FF0000" stroke-opacity="0.85" stroke-width="1.6"/>
<circle cx="1162.60" cy="2306.13" r="17.70" fill="#FF0000" fill-opacity="0.85" stroke="#FF0000" stroke-opacity="0.85" stroke-width="1.6"/>
<circle cx="1162.60" cy="2354.96" r="20.70" fill="#FF0000" fill-opacity="0.85" stroke="#FF0000" stroke-opacity="0.85" stroke-width="1.6"/>
<circle cx="910.90" cy="2403.79" r="18.50" fill="#377EB8" fill-opacity="0.8" stroke="#377EB8" stroke-opacity="0.8" stroke-width="1.6"/>
<circle cx="1242.70" cy="2403.79" r="22.10" fill="#FF0000" fill-opacity="0.85" stroke="#FF0000" stroke-opacity="0.85" stroke-width="1.6"/>
<text x="263.59" y="1532.40" font-size="29.27" fill="#4D4D4D" textLength="520.91" lengthAdjust="spacingAndGlyphs">regulation of mitochondrion organization</text>
<text x="173.27" y="1581.23" font-size="29.27" fill="#4D4D4D" textLength="610.23" lengthAdjust="spacingAndGlyphs">negative regulation of cold-induced thermogenesis</text>
<text x="518.56" y="1630.07" font-size="29.27" fill="#4D4D4D" textLength="265.04" lengthAdjust="spacingAndGlyphs">mitochondrial fission</text>
<text x="455.58" y="1678.90" font-size="29.27" fill="#4D4D4D" textLength="327.41" lengthAdjust="spacingAndGlyphs">temperature homeostasis</text>
<text x="350.06" y="1727.73" font-size="29.27" fill="#4D4D4D" textLength="432.63" lengthAdjust="spacingAndGlyphs">regulation of mitochondrial fission</text>
<text x="399.69" y="1776.56" font-size="29.27" fill="#4D4D4D" textLength="384.31" lengthAdjust="spacingAndGlyphs">amino acid metabolic process</text>
<text x="244.00" y="1825.40" font-size="29.27" fill="#4D4D4D" textLength="539.99" lengthAdjust="spacingAndGlyphs">positive regulation of mitochondrial fission</text>
<text x="467.49" y="1874.23" font-size="29.27" fill="#4D4D4D" textLength="316.51" lengthAdjust="spacingAndGlyphs">mitochondrial translation</text>
<text x="387.65" y="1923.06" font-size="29.27" fill="#4D4D4D" textLength="396.15" lengthAdjust="spacingAndGlyphs">mitochondrial gene expression</text>
<text x="296.82" y="1971.90" font-size="29.27" fill="#4D4D4D" textLength="486.38" lengthAdjust="spacingAndGlyphs">mitochondrial membrane permeability</text>
<text x="203.05" y="2020.73" font-size="29.27" fill="#4D4D4D" textLength="580.85" lengthAdjust="spacingAndGlyphs">positive regulation of membrane permeability</text>
<text x="187.06" y="2057.81" font-size="29.27" fill="#4D4D4D" textLength="597.84" lengthAdjust="spacingAndGlyphs">positive regulation of mitochondrial membrane</text>
<text x="626.82" y="2081.41" font-size="29.27" fill="#4D4D4D" textLength="157.68" lengthAdjust="spacingAndGlyphs">permeability</text>
<text x="190.32" y="2106.65" font-size="29.27" fill="#4D4D4D" textLength="593.82" lengthAdjust="spacingAndGlyphs">mitochondrial outer membrane permeabilization</text>
<text x="338.57" y="2130.25" font-size="29.27" fill="#4D4D4D" textLength="444.93" lengthAdjust="spacingAndGlyphs">involved in programmed cell death</text>
<text x="309.00" y="2167.23" font-size="29.27" fill="#4D4D4D" textLength="474.90" lengthAdjust="spacingAndGlyphs">regulation of membrane permeability</text>
<text x="176.54" y="2216.06" font-size="29.27" fill="#4D4D4D" textLength="608.19" lengthAdjust="spacingAndGlyphs">energy derivation by oxidation of organic compounds</text>
<text x="485.80" y="2264.89" font-size="29.27" fill="#4D4D4D" textLength="299.71" lengthAdjust="spacingAndGlyphs">mitochondrial transport</text>
<text x="294.25" y="2313.73" font-size="29.27" fill="#4D4D4D" textLength="489.25" lengthAdjust="spacingAndGlyphs">mitochondrial membrane organization</text>
<text x="189.56" y="2362.56" font-size="29.27" fill="#4D4D4D" textLength="594.42" lengthAdjust="spacingAndGlyphs">generation of precursor metabolites and energy</text>
<text x="432.80" y="2411.39" font-size="29.27" fill="#4D4D4D" textLength="350.19" lengthAdjust="spacingAndGlyphs">mitochondrion organization</text>
<text transform="translate(805.00,2460.60) scale(1,1.04)" x="0" y="0" font-size="28.6" fill="#4D4D4D" text-anchor="middle">10</text>
<text transform="translate(908.80,2460.60) scale(1,1.04)" x="0" y="0" font-size="28.6" fill="#4D4D4D" text-anchor="middle">5</text>
<text transform="translate(1011.20,2460.60) scale(1,1.04)" x="0" y="0" font-size="28.6" fill="#4D4D4D" text-anchor="middle">0</text>
<text transform="translate(1114.70,2460.60) scale(1,1.04)" x="0" y="0" font-size="28.6" fill="#4D4D4D" text-anchor="middle">5</text>
<text transform="translate(1221.50,2460.60) scale(1,1.04)" x="0" y="0" font-size="28.6" fill="#4D4D4D" text-anchor="middle">10</text>
<text x="930.83" y="2490.8" font-size="29" fill="#000" textLength="161.33" lengthAdjust="spacing">-log10(FDR)</text>
<text x="724.5" y="1453.2" font-size="29.35" font-style="italic" fill="#000">Pathways (RFX-treated CRC organoids)</text>
<circle cx="1361.30" cy="1820.00" r="5.20" fill="#377EB8" fill-opacity="0.8" stroke="#377EB8" stroke-opacity="0.8" stroke-width="1.2"/>
<circle cx="1361.30" cy="1862.90" r="5.20" fill="#FF0000" fill-opacity="0.85" stroke="#FF0000" stroke-opacity="0.85" stroke-width="1.2"/>
<text transform="translate(1395.50,1827.50) scale(1,1.08)" x="0" y="0" font-size="29.6" fill="#000">DOWN</text>
<text transform="translate(1395.50,1870.60) scale(1,1.08)" x="0" y="0" font-size="29.6" fill="#000">UP</text>
<text transform="translate(1340.00,1962.10) scale(1,1.05)" x="0" y="0" font-size="29.3" fill="#000">Count</text>
<circle cx="1367.10" cy="1999.40" r="12.40" fill="#000" fill-opacity="0.85" stroke="#000" stroke-opacity="0.85" stroke-width="1.6"/>
<text transform="translate(1406.70,2009.90) scale(1,1.04)" x="0" y="0" font-size="29" fill="#000">4</text>
<circle cx="1367.10" cy="2042.40" r="16.70" fill="#000" fill-opacity="0.85" stroke="#000" stroke-opacity="0.85" stroke-width="1.6"/>
<text transform="translate(1406.70,2052.90) scale(1,1.04)" x="0" y="0" font-size="29" fill="#000">8</text>
<circle cx="1367.10" cy="2088.50" r="19.50" fill="#000" fill-opacity="0.85" stroke="#000" stroke-opacity="0.85" stroke-width="1.6"/>
<text transform="translate(1407.30,2101.70) scale(1,1.04)" x="0" y="0" font-size="29" fill="#000">12</text>
<circle cx="1367.10" cy="2140.50" r="21.40" fill="#000" fill-opacity="0.85" stroke="#000" stroke-opacity="0.85" stroke-width="1.6"/>
<text transform="translate(1407.30,2153.70) scale(1,1.04)" x="0" y="0" font-size="29" fill="#000">16</text>
<text transform="translate(0.65,34.00) scale(1.055,1.025)" x="0" y="0" font-size="46" fill="#1A1A1A" font-weight="bold">A</text>
<text transform="translate(2.20,1356.90) scale(0.97,1.03)" x="0" y="0" font-size="46" fill="#1A1A1A" font-weight="bold">B</text>
</svg>
</body></html>
